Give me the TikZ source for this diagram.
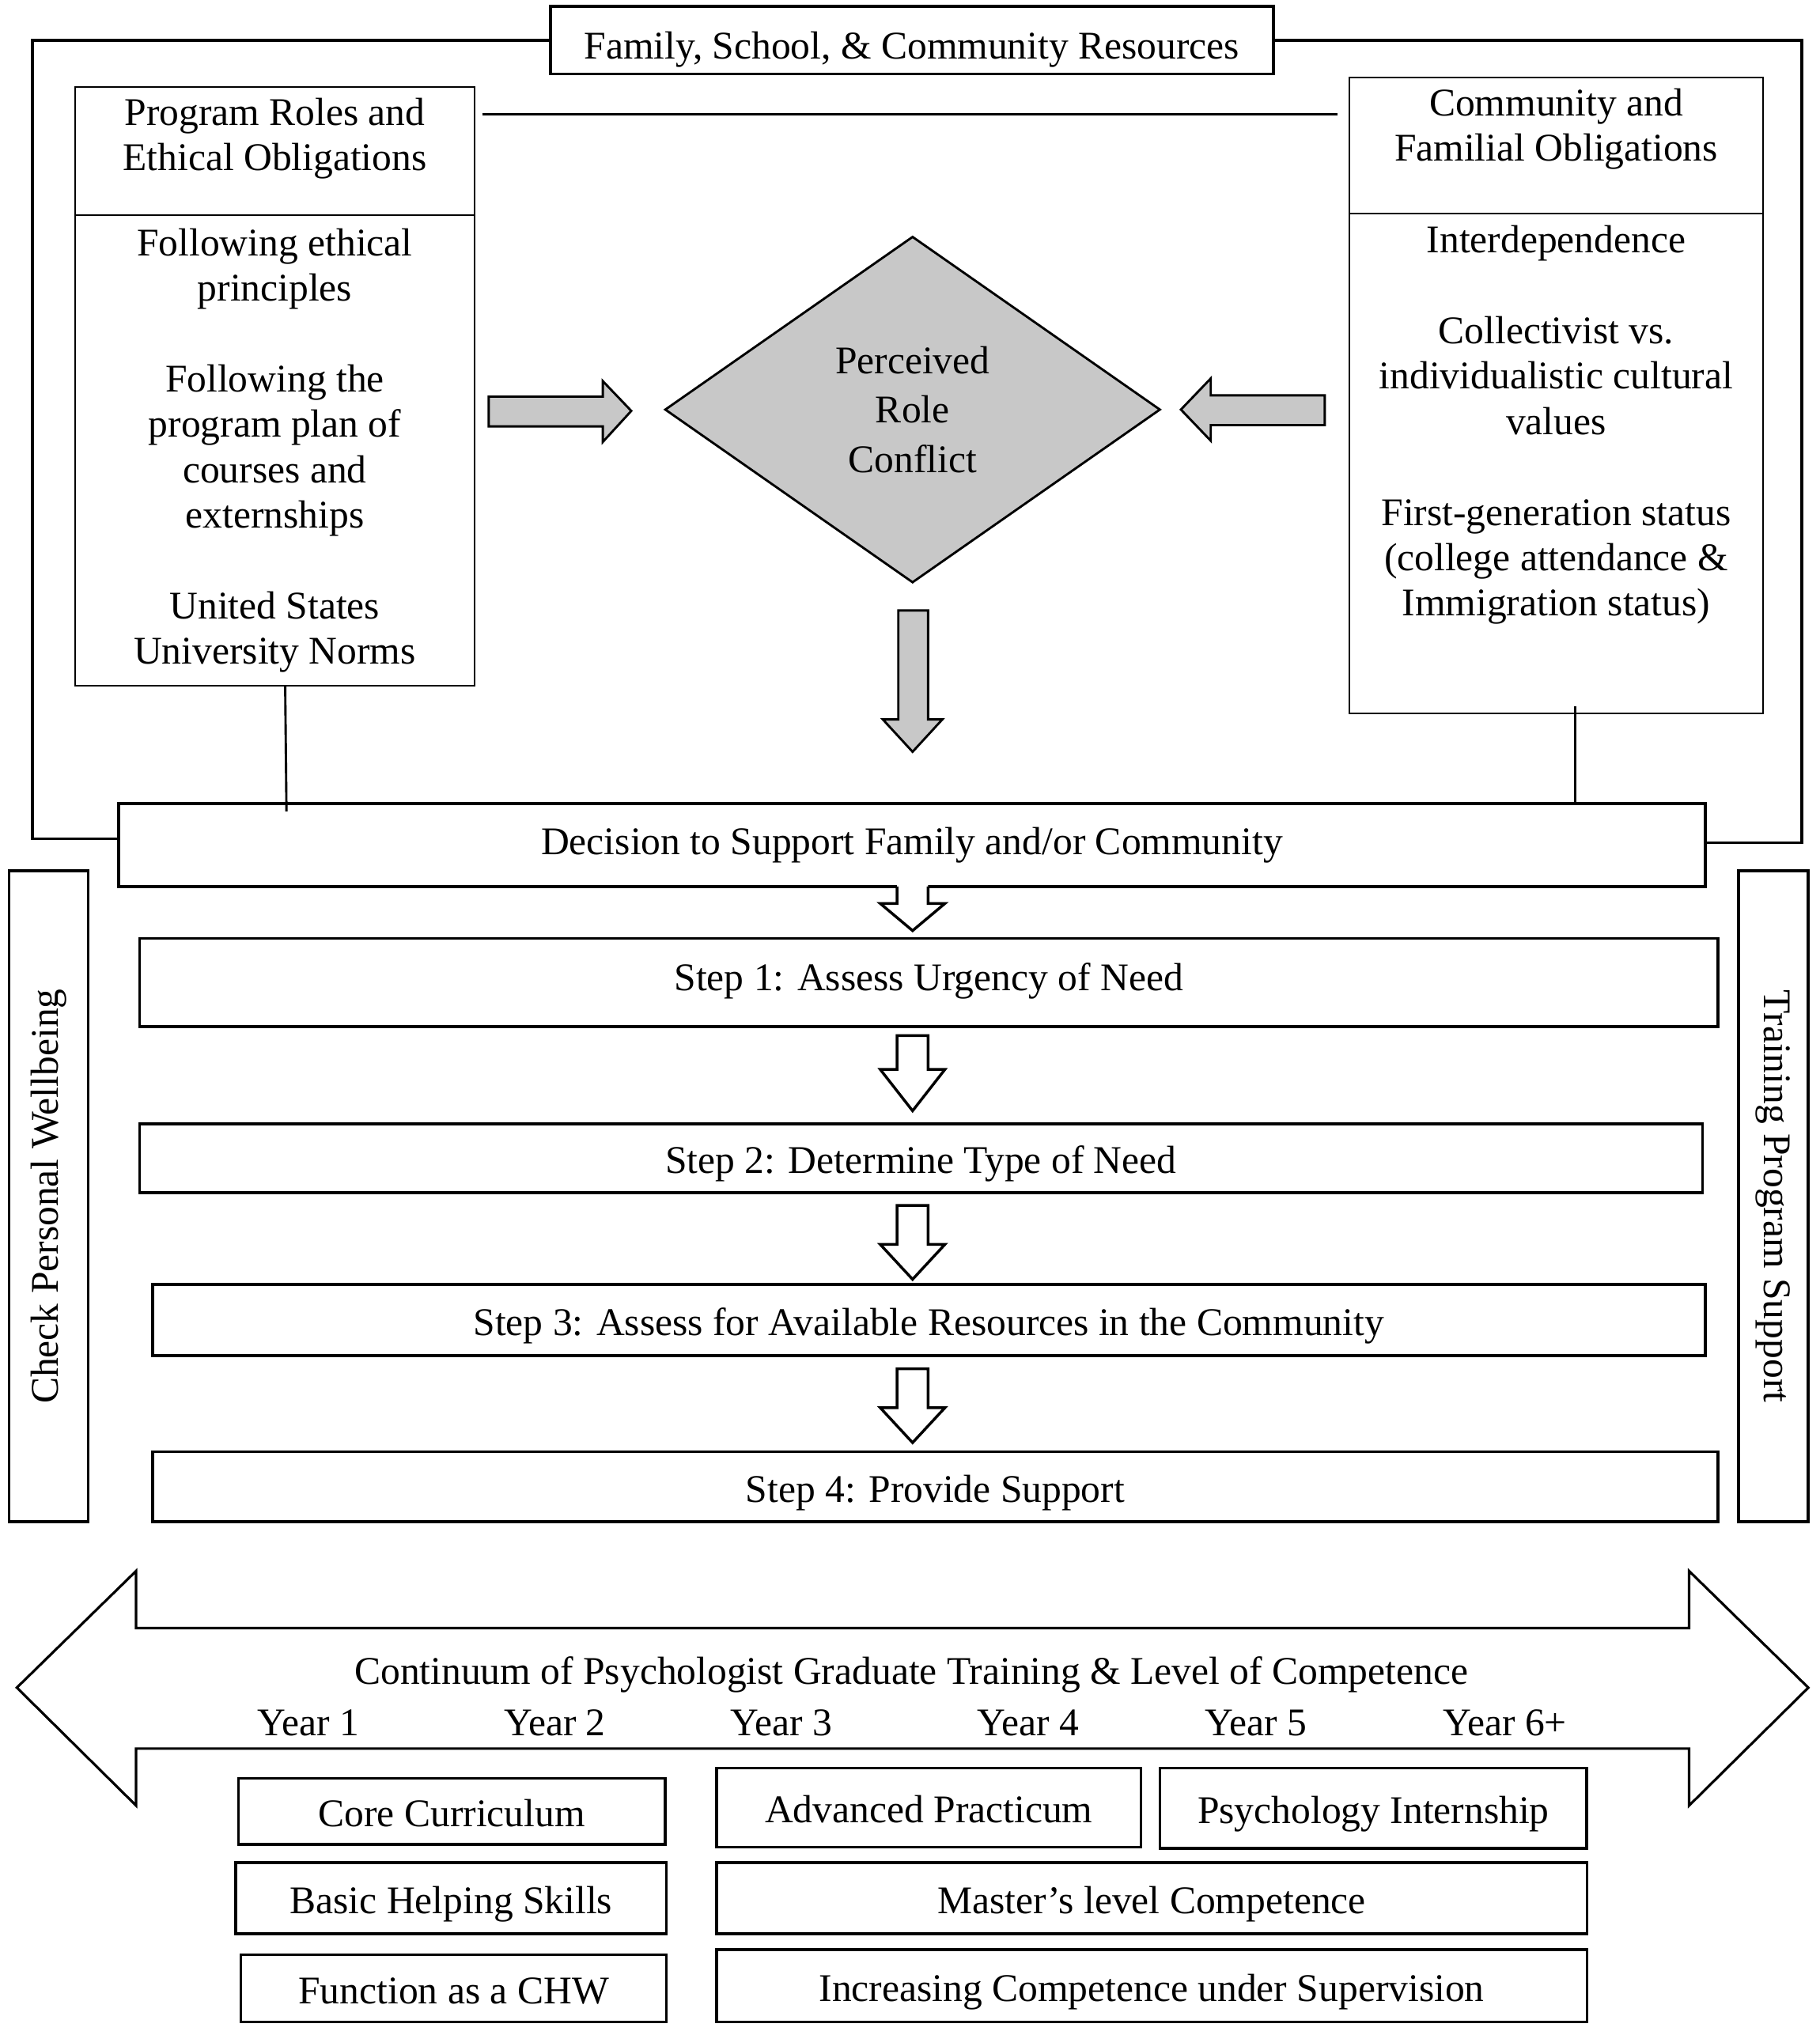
\documentclass[tikz,border=0pt]{standalone}
\usepackage{fontspec}
\setmainfont{Liberation Serif}
\usetikzlibrary{shapes.geometric, calc}
\definecolor{conflictgray}{RGB}{200,200,200}

\begin{document}
\begin{tikzpicture}
      [
        x=0.01cm, y=-0.01cm,
        txt/.style={font=\fontsize{8.6}{9.96}\selectfont, align=center, inner sep=0pt},
        frame/.style={line width=0.6pt},
        thinbox/.style={draw, line width=0.35pt, inner sep=0pt},
        stepbox/.style={draw, line width=0.65pt, txt},
        smallbox/.style={draw, line width=0.6pt, txt, text height=8.6pt, text depth=1.9pt},
        grayarrow/.style={draw, fill=conflictgray, line width=0.5pt},
        hollow/.style={draw, fill=white, line width=0.6pt}
      ]
      \useasboundingbox (0,0) rectangle (1404,1570);
      % resources
      \node [stepbox, minimum width=5.57cm, minimum height=0.52cm, text height=10pt,
        text depth=1.9pt] (title) at (703.5,31) {Family, School, \& Community Resources};
      \draw [frame] (title.west) -| (25,647) -- (92,647);
      \draw [frame] (title.east) -| (1390,650) -- (1315,650);
      % program roles
      \node [thinbox, minimum width=3.08cm, minimum height=4.62cm] (prog) at (212,298) {};
      \draw [line width=0.35pt] (58,166) -- (366,166);
      \node [txt] (proghead) at (212,107) {Program Roles and\\Ethical Obligations};
      \node [txt] (progbody) at (212,347.5) {Following ethical\\principles\\[9.96pt]Following the\\
        program plan of\\courses and\\externships\\[9.96pt]United States\\University Norms};
      % community obligations
      \node [thinbox, minimum width=3.19cm, minimum height=4.90cm] (fam) at (1200.5,305) {};
      \draw [line width=0.35pt] (1041,165) -- (1360,165);
      \node [txt] (famhead) at (1200.5,99.5) {Community and\\Familial Obligations};
      \node [txt] (fambody) at (1200.5,328) {Interdependence\\[9.96pt]Collectivist vs.\\
        individualistic cultural\\values\\[9.96pt]First-generation status\\
        (college attendance \&\\Immigration status)};
      \coordinate (top1) at (372,88);
      \coordinate (top2) at (1032,88);
      \draw [line width=0.5pt] (top1) -- (top2);
      % conflict
      \node [diamond, draw, fill=conflictgray, line width=0.5pt, inner sep=0pt,
        minimum width=3.82cm, minimum height=2.67cm, aspect=1.43,
        txt, font=\fontsize{8.6}{10.8}\selectfont] (conflict) at (704,316)
        {Perceived\\Role\\Conflict};
      \draw [grayarrow] (377,306) -- (465,306) -- (465,294) -- (487,317)
        -- (465,341) -- (465,329) -- (377,329) -- cycle;
      \draw [grayarrow] (1022,305) -- (934,305) -- (934,292) -- (911,316)
        -- (934,340) -- (934,328) -- (1022,328) -- cycle;
      \draw [grayarrow] (693,471) -- (716,471) -- (716,555) -- (727,555)
        -- (704,580) -- (681,555) -- (693,555) -- cycle;
      % decision
      \node [stepbox, minimum width=12.23cm, minimum height=0.64cm] (dec) at (703.5,652)
        {Decision to Support Family and/or Community};
      \draw [line width=0.5pt] (220,529) -- (221,626);
      \draw [line width=0.5pt] (1215,545) -- (1215,0 |- dec.north);
      % steps
      \foreach \n/\x/\y/\w/\h/\th/\lbl in {1/716.5/758/12.17/0.68/5.4/Assess Urgency of Need,
          2/710.5/893.5/12.05/0.53/8.6/Determine Type of Need,
          3/716.5/1018.5/11.97/0.55/8.6/Assess for Available Resources in the Community,
          4/721.5/1147/12.07/0.54/8.6/Provide Support} {
          \node [stepbox, minimum width=\w cm, minimum height=\h cm, text height=\th pt,
            text depth=1.9pt] (step\n) at (\x,\y) {Step \n: \lbl};
      }
      \fill [white] (692,682) -- (692,697) -- (679,697) -- (704,718) -- (729,697)
        -- (716,697) -- (716,682) -- cycle;
      \draw [line width=0.6pt] (692,684) -- (692,697) -- (679,697) -- (704,718)
        -- (729,697) -- (716,697) -- (716,684);
      \foreach \top/\neck/\tip in {799/825/857, 930/960/987, 1056/1086/1113} {
          \draw [hollow] (692,\top) -- (692,\neck) -- (679,\neck) -- (704,\tip)
            -- (729,\neck) -- (716,\neck) -- (716,\top) -- cycle;
      }
      % side boxes
      \node [stepbox, minimum width=0.61cm, minimum height=5.02cm] (well) at (37.5,923) {};
      \node [txt, rotate=90] (welltxt) at (well.center) {Check Personal Wellbeing};
      \node [stepbox, minimum width=0.54cm, minimum height=5.02cm] (train) at (1368,923) {};
      \node [txt, rotate=-90] (traintxt) at (train.center) {Training Program Support};
      % continuum
      \draw [line width=0.55pt] (13,1302) -- (105,1212) -- (105,1256) -- (1303,1256)
        -- (1303,1212) -- (1395,1302) -- (1303,1393) -- (1303,1349) -- (105,1349)
        -- (105,1393) -- cycle;
      \node [txt] (cont) at (703,1292)
        {Continuum of Psychologist Graduate Training \& Level of Competence};
      \foreach \n/\lbl/\x in {1/1/238, 2/2/428, 3/3/603, 4/4/793, 5/5/969, 6/6+/1161} {
          \node [txt] (year\n) at (\x,1329) {Year \lbl};
      }
      % competences
      \node [smallbox, minimum width=3.29cm, minimum height=0.51cm] (core) at (348.5,1397.5)
        {Core Curriculum};
      \node [smallbox, minimum width=3.32cm, minimum height=0.55cm] (basic) at (348,1464.5)
        {Basic Helping Skills};
      \node [smallbox, minimum width=3.28cm, minimum height=0.52cm] (chw) at (350,1534)
        {Function as a CHW};
      \node [smallbox, minimum width=3.27cm, minimum height=0.61cm] (adv) at (716.5,1394.5)
        {Advanced Practicum};
      \node [smallbox, minimum width=3.29cm, minimum height=0.62cm] (intern) at (1059.5,1395)
        {Psychology Internship};
      \node [smallbox, minimum width=6.71cm, minimum height=0.55cm] (master) at (888.5,1464.5)
        {Master’s level Competence};
      \node [smallbox, minimum width=6.71cm, minimum height=0.56cm] (super) at (888.5,1532)
        {Increasing Competence under Supervision};
\end{tikzpicture}
\end{document}
